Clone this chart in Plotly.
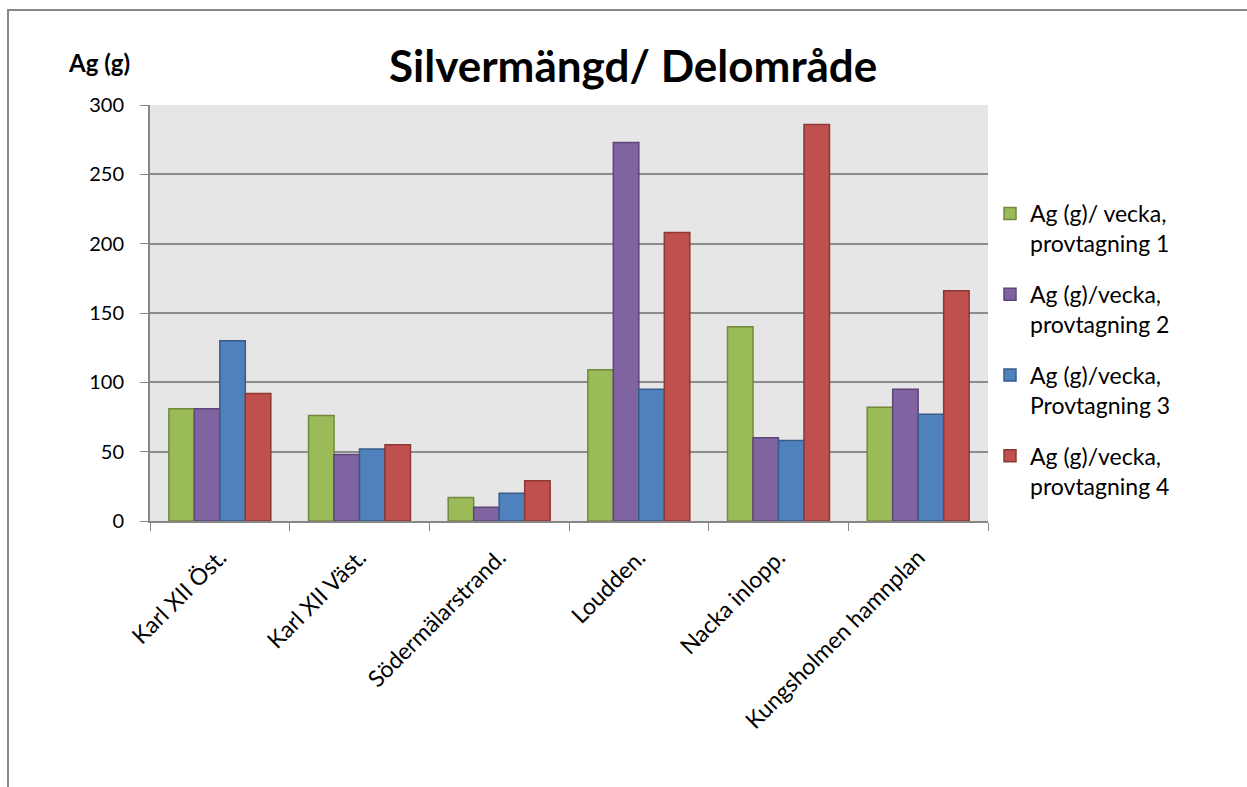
import plotly.graph_objects as go

categories = ["Karl XII Öst.", "Karl XII Väst.", "Södermälarstrand.", "Loudden.", "Nacka inlopp.", "Kungsholmen hamnplan"]
series_names = [
    "Ag (g)/ vecka,<br>provtagning 1",
    "Ag (g)/vecka,<br>provtagning 2",
    "Ag (g)/vecka,<br>Provtagning 3",
    "Ag (g)/vecka,<br>provtagning 4",
]
prov1 = [81, 76, 17, 109, 140, 82]
prov2 = [81, 48, 10, 273, 60, 95]
prov3 = [130, 52, 20, 95, 58, 77]
prov4 = [92, 55, 29, 208, 286, 166]
y_ticks = [0, 50, 100, 150, 200, 250, 300]

fills = ["#9BBB59", "#8064A2", "#4F81BD", "#C0504D"]
edges = ["#71893F", "#5C4776", "#385D8A", "#8C3836"]

FONT = "Lato"
fig = go.Figure()
for i, (name, vals) in enumerate(zip(series_names, [prov1, prov2, prov3, prov4])):
    fig.add_trace(go.Bar(
        x=categories, y=vals, name=name, legendgroup=f"g{i}",
        marker=dict(color=fills[i], line=dict(color=edges[i], width=1.5)),
    ))

L, R, T, B = 150, 259, 105, 266
pw, ph = 1247 - L - R, 787 - T - B

fig.update_layout(
    width=1247, height=787,
    margin=dict(l=L, r=R, t=T, b=B, pad=0),
    paper_bgcolor="white", plot_bgcolor="#E6E6E6",
    barmode="group", bargap=0.27, bargroupgap=0,
    font=dict(family=FONT, size=20, color="black"),
    showlegend=True,
    legend=dict(x=(990 - L) / pw, y=(521 - 192) / ph, xanchor="left", yanchor="top",
                font=dict(size=23, family=FONT), tracegroupgap=18, valign="top",
                bgcolor="rgba(0,0,0,0)", itemwidth=30),
    xaxis=dict(type="category", tickangle=-45, ticks="outside", tickson="boundaries",
               ticklen=8, tickcolor="#868686", showline=True, linecolor="#868686",
               linewidth=2, showgrid=False, tickfont=dict(size=23, family=FONT),
               ticklabelstandoff=12, range=[-0.5, 5.5]),
    yaxis=dict(range=[0, 300], tickvals=y_ticks, ticks="outside", ticklen=8,
               tickcolor="#868686", showline=True, linecolor="#868686", linewidth=2,
               showgrid=True, gridcolor="#8C8C8C", gridwidth=1.5, zeroline=False,
               tickfont=dict(size=20, family=FONT), ticklabelstandoff=12),
    annotations=[
        dict(text="<b>Silvermängd/ Delområde</b>", xref="paper", yref="paper",
             x=(633 - L) / pw, y=(521 - 65) / ph, xanchor="center", yanchor="middle",
             showarrow=False, font=dict(size=44, family=FONT)),
        dict(text="<b>Ag (g)</b>", xref="paper", yref="paper",
             x=(99 - L) / pw, y=(521 - 62) / ph, xanchor="center", yanchor="middle",
             showarrow=False, font=dict(size=24, family=FONT)),
    ],
    shapes=[
        dict(type="rect", xref="paper", yref="paper",
             x0=(8 - L) / pw, x1=(1260 - L) / pw, y0=-1.0, y1=(521 - 10) / ph,
             line=dict(color="#868686", width=2), layer="below"),
    ],
)

fig.write_html("out.html")
